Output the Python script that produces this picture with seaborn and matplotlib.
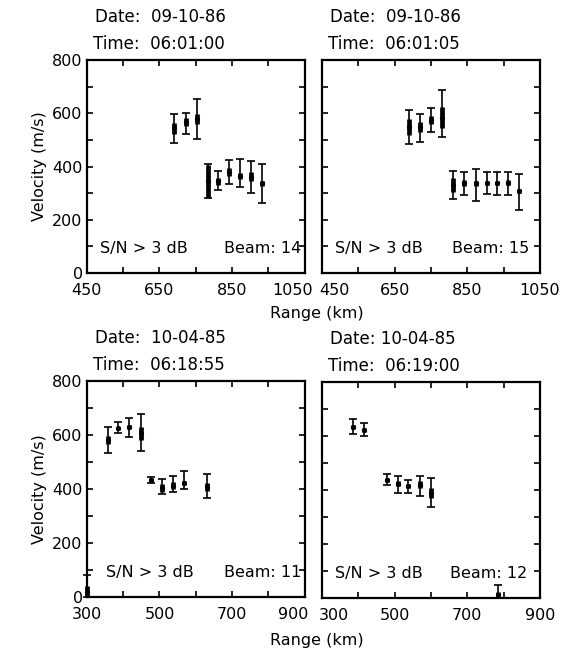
import numpy as np
import pandas as pd
import matplotlib
matplotlib.use("Agg")
import matplotlib.pyplot as plt
import matplotlib.transforms as mtrans
import seaborn as sb
from matplotlib.ticker import FixedLocator, MultipleLocator

# --- data ---------------------------------------------------------------
# panel A: 09-10-86 06:01:00, beam 14
rng_a = [690, 722, 752, 785, 812, 842, 871, 903, 933]
vel_a = [544, 566, 579, 345, 344, 379, 365, 362, 337]
hi_a = [596, 600, 652, 409, 384, 424, 427, 419, 409]
lo_a = [490, 522, 502, 281, 310, 335, 322, 302, 262]
box_a = [20, 15, 20, 62, 14, 14, 10, 18, 10]

# panel B: 09-10-86 06:01:05, beam 15
rng_b = [689, 721, 751, 781, 811, 842, 873, 903, 932, 963, 992]
vel_b = [547, 549, 575, 584, 331, 337, 337, 337, 337, 340, 309]
hi_b = [612, 599, 621, 686, 384, 378, 390, 378, 378, 378, 372]
lo_b = [483, 491, 528, 510, 278, 294, 272, 296, 294, 294, 236]
box_b = [30, 18, 15, 38, 25, 12, 10, 8, 8, 8, 8]

# panel C: 10-04-85 06:18:55, beam 11
rng_c = [300, 358, 385, 417, 448, 477, 507, 538, 568, 631]
vel_c = [20, 581, 625, 629, 606, 434, 403, 413, 422, 409]
hi_c = [83, 631, 650, 664, 677, 444, 436, 449, 465, 455]
lo_c = [0, 535, 606, 592, 541, 424, 382, 388, 401, 366]
box_c = [20, 15, 6, 8, 25, 8, 15, 12, 8, 15]

# panel D: 10-04-85 06:19:00, beam 12
rng_d = [385, 417, 478, 508, 538, 569, 599, 784]
vel_d = [633, 623, 438, 423, 414, 420, 389, 12]
hi_d = [663, 648, 461, 451, 436, 451, 444, 47]
lo_d = [609, 599, 417, 389, 389, 377, 337, 0]
box_d = [8, 8, 8, 10, 8, 12, 20, 12]

dates = ["Date:  09-10-86", "Date:  09-10-86", "Date:  10-04-85", "Date: 10-04-85"]
times = ["Time:  06:01:00", "Time:  06:01:05", "Time:  06:18:55", "Time:  06:19:00"]
beams = ["Beam: 14", "Beam: 15", "Beam: 11", "Beam: 12"]

xlims = [(450, 1050), (450, 1050), (300, 900), (300, 900)]
xmajor = [[450, 650, 850, 1050], [450, 650, 850, 1050], [300, 500, 700, 900], [300, 500, 700, 900]]
xminor = [[550, 750, 950], [550, 750, 950], [400, 600, 800], [400, 600, 800]]

sb.set_style("ticks")
plt.rcParams['font.family'] = ['DejaVu Sans']
plt.rcParams['font.size'] = 11.5
for k in ['text.color', 'axes.labelcolor', 'xtick.color', 'ytick.color', 'axes.edgecolor']:
    plt.rcParams[k] = 'black'

fig = plt.figure(figsize=(5.75, 6.51), dpi=100)
W = 0.379
pos = [[0.151, 0.5806, W, 0.3272],
       [0.560, 0.5806, W, 0.3272],
       [0.151, 0.0829, W, 0.3318],
       [0.560, 0.0814, W, 0.3318]]

panels = [(rng_a, vel_a, hi_a, lo_a, box_a),
          (rng_b, vel_b, hi_b, lo_b, box_b),
          (rng_c, vel_c, hi_c, lo_c, box_c),
          (rng_d, vel_d, hi_d, lo_d, box_d)]

sn_x = [0.06, 0.06, 0.087, 0.06]
beam_x = [0.985, 0.95, 0.985, 0.94]

for i, (r, v, hi, lo, bx) in enumerate(panels):
    ax = fig.add_axes(pos[i])
    r = np.array(r); v = np.array(v); hi = np.array(hi); lo = np.array(lo); bx = np.array(bx)
    df = pd.DataFrame({"range": r, "vel": v})
    ax.errorbar(r, v, yerr=[v - lo, hi - v], fmt="none", ecolor="black",
                elinewidth=1.2, capsize=3, capthick=1.2, clip_on=False)
    ax.vlines(r, np.maximum(v - bx, 0), v + bx, color="black", lw=3.4, clip_on=False)
    sb.scatterplot(data=df, x="range", y="vel", ax=ax, color="black", s=14,
                   edgecolor="black", linewidth=0, clip_on=False)

    ax.set_xlim(*xlims[i])
    ax.set_ylim(0, 800)
    ax.xaxis.set_major_locator(FixedLocator(xmajor[i]))
    ax.xaxis.set_minor_locator(FixedLocator(xminor[i]))
    ax.yaxis.set_major_locator(MultipleLocator(200))
    ax.yaxis.set_minor_locator(MultipleLocator(100))
    ax.tick_params(which="both", direction="in", top=True, right=True,
                   length=4, width=1.2, labelsize=11.5)
    ax.tick_params(axis="x", pad=7.5)
    ax.tick_params(axis="y", pad=3)
    for s in ax.spines.values():
        s.set_linewidth(1.6)
    ax.set_xlabel("")
    if i % 2 == 0:
        ax.set_ylabel("Velocity (m/s)", fontsize=11.5, labelpad=4)
    else:
        ax.set_ylabel("")
        ax.set_yticklabels([])

    # edge labels that meet between the panels are pushed apart
    labs = ax.get_xticklabels()
    if i % 2 == 0:
        shift = mtrans.ScaledTranslation(-12 / 100, 0, fig.dpi_scale_trans)
        labs[-1].set_transform(labs[-1].get_transform() + shift)
    else:
        shift = mtrans.ScaledTranslation(12 / 100, 0, fig.dpi_scale_trans)
        labs[0].set_transform(labs[0].get_transform() + shift)

    ax.text(0.037, 1.20, dates[i], transform=ax.transAxes, ha="left", va="center", fontsize=12)
    ax.text(0.028, 1.075, times[i], transform=ax.transAxes, ha="left", va="center", fontsize=12)
    ax.text(sn_x[i], 0.115, "S/N > 3 dB", transform=ax.transAxes, ha="left", va="center", fontsize=11.5)
    ax.text(beam_x[i], 0.115, beams[i], transform=ax.transAxes, ha="right", va="center", fontsize=11.5)

fig.text(0.551, 0.518, "Range (km)", ha="center", va="center", fontsize=11.5)
fig.text(0.551, 0.0154, "Range (km)", ha="center", va="center", fontsize=11.5)

fig.savefig("out.png", dpi=100)
